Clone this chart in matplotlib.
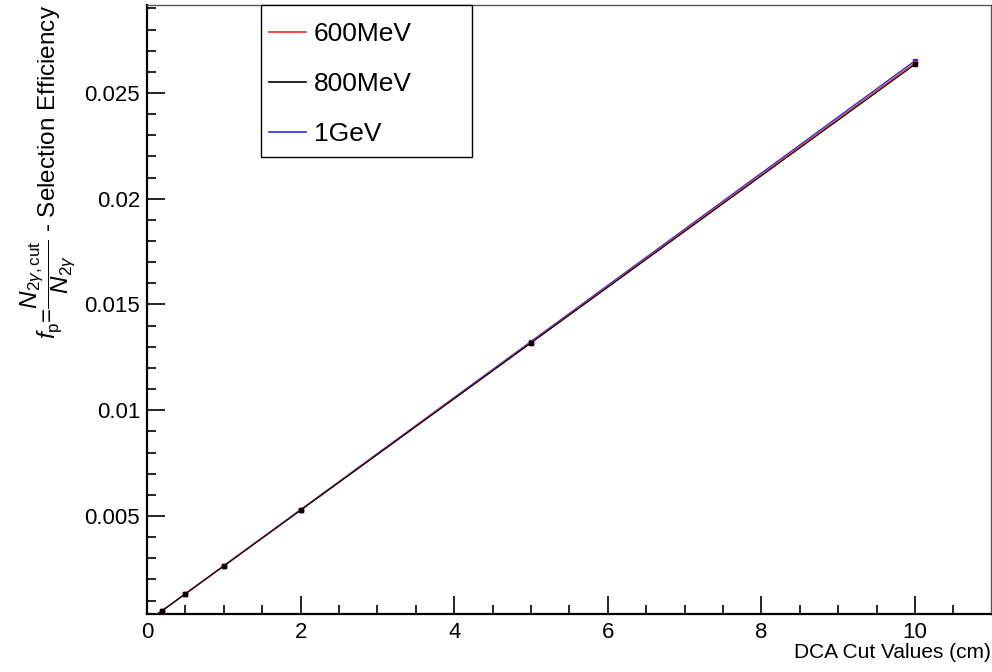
import matplotlib
matplotlib.use("Agg")
import matplotlib.pyplot as plt
from matplotlib.patches import Rectangle
from matplotlib.ticker import MultipleLocator

plt.rcParams["font.family"] = ["Liberation Sans", "DejaVu Sans"]
plt.rcParams["mathtext.fontset"] = "custom"
plt.rcParams["mathtext.rm"] = "Liberation Sans"
plt.rcParams["mathtext.it"] = "Liberation Sans:italic"
plt.rcParams["mathtext.bf"] = "Liberation Sans:bold"

# DCA cut values (cm) and selection efficiencies per beam energy
dca_cut = [0.1, 0.2, 0.5, 1.0, 2.0, 5.0, 10.0]
eff_600mev = [0.000264, 0.000528, 0.00132, 0.00264, 0.00528, 0.0132, 0.02642]
eff_800mev = [0.000263, 0.000527, 0.001318, 0.002635, 0.00527, 0.01318, 0.02635]
eff_1gev = [0.000265, 0.00053, 0.001325, 0.00265, 0.0053, 0.01325, 0.02652]

labels = ["600MeV", "800MeV", "1GeV"]
colors = ["#e8302a", "#000000", "#2b2bd8"]

fig = plt.figure(figsize=(9.92, 6.72), dpi=100)
ax = fig.add_axes([147 / 992, 1 - 614 / 672, (991 - 147) / 992, (614 - 5) / 672])

# draw order: blue, red, black on top (black visible at low x)
ax.plot(dca_cut, eff_1gev, color=colors[2], lw=1, marker="s", ms=3.5, mec=colors[2], zorder=3)
ax.plot(dca_cut, eff_600mev, color=colors[0], lw=1, marker="s", ms=3.5, mec=colors[0], zorder=4)
ax.plot(dca_cut, eff_800mev, color=colors[1], lw=0.8, marker="s", ms=2.5, mec=colors[1], zorder=5)

ax.set_xlim(0, 10.99)
ax.set_ylim(0.000366, 0.02916)

ax.xaxis.set_minor_locator(MultipleLocator(0.5))
ax.yaxis.set_minor_locator(MultipleLocator(0.001))
ax.set_yticks([0.005, 0.01, 0.015, 0.02, 0.025])
ax.set_yticklabels(["0.005", "0.01", "0.015", "0.02", "0.025"])
ax.set_xticks([0, 2, 4, 6, 8, 10])
ax.set_xticklabels(["0", "2", "4", "6", "8", "10"])

ax.tick_params(which="both", direction="in", top=False, right=False, labelsize=16, color="black")
ax.tick_params(which="major", length=13, width=1.2)
ax.tick_params(which="minor", length=6.5, width=1.2)
ax.tick_params(axis="x", pad=6)
ax.tick_params(axis="y", pad=5)

ax.spines["left"].set_linewidth(1.6)
ax.spines["bottom"].set_linewidth(1.6)
ax.spines["top"].set_linewidth(1.0)
ax.spines["right"].set_linewidth(1.0)
ax.spines["top"].set_color("#555555")
ax.spines["right"].set_color("#555555")

ax.set_xlabel("DCA Cut Values (cm)", fontsize=15, loc="right", labelpad=0)
ax.set_ylabel(r"$f_{\rm p}$=$\dfrac{N_{2\gamma,\rm cut}}{N_{2\gamma}}$ - Selection Efficiency",
              fontsize=17.5, loc="top")
ax.yaxis.set_label_coords(-0.082, 1.0)

# legend box (ROOT TLegend style)
fig.patches.append(Rectangle((261 / 992, 1 - 157 / 672), (472 - 261) / 992, (157 - 5) / 672,
                             transform=fig.transFigure, fill=True, facecolor="white",
                             edgecolor="black", lw=1.0, zorder=10))
handles = [plt.Line2D([], [], color=c, lw=1.2) for c in colors]
leg = fig.legend(handles, labels, loc="upper left", bbox_to_anchor=(251 / 992, 1 - 4 / 672),
                 frameon=False, fontsize=19, handlelength=1.4, handletextpad=0.27,
                 labelspacing=0.98, borderpad=0.2)
leg.set_zorder(11)

fig.savefig("out.png", dpi=100)
